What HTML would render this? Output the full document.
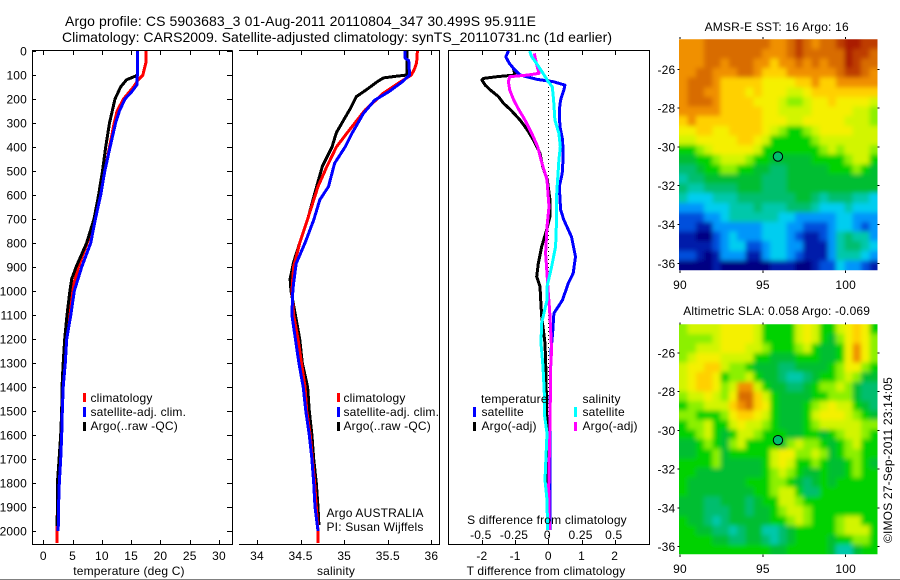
<!DOCTYPE html>
<html>
<head>
<meta charset="utf-8">
<style>
html,body{margin:0;padding:0;background:#fff;}
svg{display:block;font-family:"Liberation Sans",sans-serif;font-size:12px;fill:#000;letter-spacing:0.18px;}
</style>
</head>
<body>
<svg id="fig" xmlns="http://www.w3.org/2000/svg" width="900" height="580" viewBox="0 0 900 580">
<defs>
<filter id="map-smooth" filterUnits="userSpaceOnUse" x="640" y="0" width="260" height="580"><feGaussianBlur stdDeviation="2.4"/></filter>
<clipPath id="sst-clip"><rect x="679" y="39.3" width="198.5" height="231"/></clipPath>
<clipPath id="sla-clip"><rect x="679" y="324.3" width="198.5" height="230"/></clipPath>
</defs>
<rect x="0" y="0" width="900" height="580" fill="#fff"/>
<rect x="0" y="579" width="900" height="1" fill="#808080"/>
<g id="maps"></g>
<g id="axes"></g>
<g id="lines"></g>
<text x="65" y="26" font-size="14" letter-spacing="0" textLength="471">Argo profile: CS 5903683_3 01-Aug-2011 20110804_347 30.499S 95.911E</text>
<text x="62" y="42" font-size="14" letter-spacing="0" textLength="550">Climatology: CARS2009. Satellite-adjusted climatology: synTS_20110731.nc (1d earlier)</text>
<text x="129" y="575" text-anchor="middle">temperature (deg C)</text>
<text x="336" y="575" text-anchor="middle">salinity</text>
<text x="546" y="575" text-anchor="middle">T difference from climatology</text>
<text x="547" y="524" text-anchor="middle">S difference from climatology</text>
<g>
<rect x="83" y="393" width="3" height="9" fill="#f00"/>
<rect x="83" y="407" width="3" height="10" fill="#00f"/>
<rect x="83" y="422" width="3" height="9" fill="#000"/>
<text x="90.5" y="402">climatology</text>
<text x="90.5" y="416">satellite-adj. clim.</text>
<text x="90.5" y="430">Argo(..raw -QC)</text>
</g>
<g>
<rect x="337" y="393" width="3" height="9" fill="#f00"/>
<rect x="337" y="407" width="3" height="10" fill="#00f"/>
<rect x="337" y="422" width="3" height="9" fill="#000"/>
<text x="343.5" y="402">climatology</text>
<text x="343.5" y="416">satellite-adj. clim.</text>
<text x="343.5" y="430">Argo(..raw -QC)</text>
</g>
<g>
<text x="481" y="403">temperature</text>
<text x="582.5" y="403">salinity</text>
<rect x="473" y="407" width="3" height="10" fill="#00f"/>
<rect x="473" y="422" width="3" height="9" fill="#000"/>
<rect x="574" y="407" width="3" height="10" fill="#0ff"/>
<rect x="574" y="422" width="3" height="9" fill="#f0f"/>
<text x="481.5" y="416">satellite</text>
<text x="481.5" y="430">Argo(-adj)</text>
<text x="582.5" y="416">satellite</text>
<text x="582.5" y="430">Argo(-adj)</text>
</g>
<text x="326.5" y="517">Argo AUSTRALIA</text>
<text x="326.5" y="531">PI: Susan Wijffels</text>
<text x="776.7" y="31" text-anchor="middle">AMSR-E SST: 16 Argo: 16</text>
<text x="776.7" y="315" text-anchor="middle">Altimetric SLA: 0.058 Argo: -0.069</text>
<text transform="translate(892,460) rotate(-90)" text-anchor="middle">©IMOS 27-Sep-2011 23:14:05</text>
</svg>
<script>
const depthTicks = [0,100,200,300,400,500,600,700,800,900,1000,1100,1200,1300,1400,1500,1600,1700,1800,1900,2000];
const tempTicks = [0,5,10,15,20,25,30];
const salTicks = [34,34.5,35,35.5,36];
const salTickLabels = ["34","34.5","35","35.5","36"];
const tDiffTicks = [-2,-1,0,1,2];
const sDiffTicks = [-0.5,-0.25,0,0.25,0.5];
const sDiffTickLabels = ["-0.5","-0.25","0","0.25","0.5"];
const lonTicks = [90,95,100];
const latTicks = [26,28,30,32,34,36];

const tempClimDepth = [0,50,80,100,120,150,200,250,300,400,500,600,700,800,900,1000,1100,1200,1300,1400,1500,1600,1700,1800,1900,1950,2050];
const tempClimValue = [17.5,17.5,17.2,17.0,16.2,15.4,13.7,12.6,12.1,11.3,10.5,9.8,8.8,7.5,6.0,4.85,4.4,3.85,3.6,3.3,3.2,3.05,2.85,2.6,2.45,2.35,2.35];
const tempArgoDepth = [0,100,105,120,150,200,300,400,500,600,700,800,900,950,1000,1100,1200,1300,1400,1500,1600,1700,1800,1900,1980];
const tempArgoValue = [16.05,16.05,15.7,14.2,13.2,12.25,11.3,10.65,10.1,9.45,8.65,7.4,5.6,4.85,4.55,4.05,3.65,3.4,3.2,3.15,2.97,2.7,2.4,2.4,2.35];
const tempSatDepth = [0,100,140,170,200,250,300,400,500,600,700,800,900,1000,1100,1200,1300,1400,1500,1600,1700,1800,1900,2000];
const tempSatValue = [16.05,16.05,16.0,15.1,13.95,13.0,12.35,11.4,10.5,9.8,8.9,8.1,6.55,5.3,4.7,4.0,3.75,3.4,3.25,3.15,2.97,2.73,2.6,2.55];

const salClimDepth = [0,50,80,100,130,176,246,343,400,482,565,690,800,900,1000,1100,1200,1300,1400,1500,1600,1800,2000,2050];
const salClimValue = [35.84,35.83,35.80,35.77,35.64,35.45,35.24,35.03,34.91,34.80,34.70,34.59,34.49,34.42,34.40,34.42,34.47,34.51,34.55,34.57,34.61,34.66,34.70,34.70];
const salArgoDepth = [0,100,105,112,130,160,190,240,290,340,400,480,570,690,800,880,950,1000,1100,1200,1300,1400,1500,1600,1700,1800,1900,1975];
const salArgoValue = [35.72,35.72,35.6,35.45,35.37,35.26,35.14,35.07,34.99,34.91,34.86,34.75,34.68,34.59,34.49,34.42,34.38,34.39,34.44,34.49,34.52,34.58,34.60,34.63,34.65,34.68,34.70,34.71];
const salSatDepth = [0,30,40,100,130,170,205,260,343,400,468,565,620,704,800,885,968,1000,1100,1200,1300,1400,1500,1600,1700,1800,1900,2000];
const salSatValue = [35.70,35.70,35.74,35.75,35.66,35.51,35.35,35.22,35.09,35.01,34.89,34.82,34.72,34.65,34.55,34.45,34.42,34.41,34.40,34.44,34.48,34.53,34.56,34.60,34.63,34.65,34.665,34.70];

const tDiffSatDepth = [0,24,50,72,100,118,128,142,162,204,246,315,371,440,510,565,662,704,774,857,926,968,1037,1093,1176,1250,1500,1996];
const tDiffSatValue = [-1.2,-1.28,-1.18,-1.05,-0.85,-0.35,0.15,0.5,0.47,0.37,0.33,0.35,0.43,0.45,0.42,0.33,0.37,0.47,0.70,0.82,0.75,0.60,0.43,0.17,0.13,0.08,0.05,0.05];
const tDiffArgoDepth = [0,24,50,72,100,107,114,121,142,162,190,218,246,288,329,371,426,482,537,621,690,746,815,885,940,982,1037,1107,1218,1343,1510,1593,1802,1990];
const tDiffArgoValue = [-1.2,-1.28,-1.18,-1.05,-1.0,-1.55,-1.95,-2.0,-1.9,-1.75,-1.5,-1.35,-1.13,-0.85,-0.63,-0.45,-0.25,-0.17,-0.03,0.05,0.05,-0.05,-0.2,-0.3,-0.35,-0.25,-0.23,-0.2,-0.1,-0.07,-0.05,-0.02,-0.05,0];
const sDiffSatDepth = [0,24,50,93,128,149,204,288,343,399,454,537,621,732,815,899,982,1037,1135,1218,1315,1426,1510,1593,1787,1871,1996];
const sDiffSatValue = [-0.14,-0.125,-0.09,-0.04,0,0.03,0.04,0.05,0.08,0.09,0.08,0.07,0.06,0.06,0.055,0.025,-0.01,-0.01,-0.05,-0.055,-0.04,-0.03,-0.03,-0.01,-0.025,-0.01,-0.005];
const sDiffArgoDepth = [10,50,93,100,107,128,162,204,246,288,343,399,454,537,649,732,843,926,1010,1079,1135,1246,1343,1454,1621,1815,1996];
const sDiffArgoValue = [-0.105,-0.09,-0.07,-0.15,-0.29,-0.30,-0.29,-0.26,-0.22,-0.175,-0.125,-0.08,-0.055,-0.01,0.005,-0.01,-0.02,-0.01,0,0.01,0.015,0.025,0.015,0.015,0.01,0.003,0.008];

const mapColorLevels = ["#000082","#001eaa","#0050dc","#0096fa","#00cdf0","#00c8aa","#00be6e","#00be32","#00d200","#8cf000","#d2f500","#f5f000","#ffd000","#f09000","#d86c00","#be3c00","#aa1e00"];

const sstLevelsRow0 = [13,13,13,14,14,14,14,14,14,14,14,13,13,14,15,14,13,14,14,15,16,16,15,15];
const sstLevelsRow1 = [13,13,13,14,14,14,14,14,14,14,13,13,13,14,15,14,14,14,14,14,16,15,15,14];
const sstLevelsRow2 = [13,13,13,14,14,13,14,14,14,13,13,12,13,13,14,13,14,13,14,14,16,15,14,14];
const sstLevelsRow3 = [13,13,14,14,13,13,13,14,14,13,12,12,12,13,13,13,13,13,13,14,15,15,14,13];
const sstLevelsRow4 = [13,14,14,14,13,12,12,12,12,12,11,11,11,11,12,12,13,12,12,13,13,13,13,13];
const sstLevelsRow5 = [13,14,14,13,13,12,12,12,11,12,11,11,11,10,10,11,12,12,12,12,12,12,12,12];
const sstLevelsRow6 = [13,14,14,14,13,12,12,12,12,11,11,11,10,9,9,10,11,11,12,11,11,11,11,10];
const sstLevelsRow7 = [13,13,13,13,13,12,12,12,12,12,11,11,10,10,10,10,11,11,11,11,11,10,10,9];
const sstLevelsRow8 = [12,13,12,12,12,12,12,12,12,12,11,11,11,10,10,11,11,11,11,11,10,10,10,9];
const sstLevelsRow9 = [11,11,12,12,11,11,12,12,12,12,11,10,9,8,8,9,10,11,11,11,11,10,10,10];
const sstLevelsRow10 = [10,10,11,11,11,11,11,12,12,11,10,8,8,8,8,8,9,10,10,10,10,10,10,10];
const sstLevelsRow11 = [8,8,9,10,11,11,11,11,11,10,8,8,8,8,8,8,8,9,10,9,10,10,10,9];
const sstLevelsRow12 = [7,7,8,8,9,10,10,10,9,8,8,7,7,7,7,7,8,8,8,8,9,10,10,8];
const sstLevelsRow13 = [6,6,7,8,8,9,9,8,8,7,7,6,6,7,7,7,7,7,8,8,8,9,8,7];
const sstLevelsRow14 = [5,6,6,7,7,7,7,7,7,7,6,6,6,7,7,7,7,7,7,7,7,7,7,7];
const sstLevelsRow15 = [6,5,5,6,6,6,6,7,7,7,6,6,6,7,7,7,7,7,7,7,7,7,7,7];
const sstLevelsRow16 = [5,4,4,4,5,5,5,6,6,6,6,6,6,6,7,7,6,5,6,6,6,5,5,4];
const sstLevelsRow17 = [3,3,3,4,4,4,5,5,5,6,5,5,5,6,6,6,5,4,4,4,5,4,4,4];
const sstLevelsRow18 = [2,2,2,3,3,4,5,5,5,5,5,5,4,4,3,3,3,3,3,4,4,3,3,3];
const sstLevelsRow19 = [2,2,1,1,3,3,3,3,3,3,4,4,4,3,3,2,2,2,3,4,4,3,2,3];
const sstLevelsRow20 = [1,1,0,0,2,3,4,3,3,3,4,4,4,3,2,1,1,2,3,5,6,5,5,3];
const sstLevelsRow21 = [1,1,1,1,2,3,4,4,2,2,3,4,4,3,3,1,1,1,3,5,6,6,5,4];
const sstLevelsRow22 = [2,2,1,0,1,3,3,3,1,1,3,4,4,3,2,1,1,1,3,5,5,5,4,3];
const sstLevelsRow23 = [0,0,0,0,1,0,0,0,0,0,0,1,1,1,0,0,1,2,2,4,3,3,2,1];
const sstLevels = [sstLevelsRow0,sstLevelsRow1,sstLevelsRow2,sstLevelsRow3,sstLevelsRow4,sstLevelsRow5,sstLevelsRow6,sstLevelsRow7,sstLevelsRow8,sstLevelsRow9,sstLevelsRow10,sstLevelsRow11,sstLevelsRow12,sstLevelsRow13,sstLevelsRow14,sstLevelsRow15,sstLevelsRow16,sstLevelsRow17,sstLevelsRow18,sstLevelsRow19,sstLevelsRow20,sstLevelsRow21,sstLevelsRow22,sstLevelsRow23];

const slaLevelsRow0 = [9,10,10,10,10,11,11,11,11,10,8,8,8,8,10,11,10,8,8,10,11,12,11,8];
const slaLevelsRow1 = [9,9,9,9,10,11,11,11,11,10,8,8,8,8,10,11,10,8,7,9,11,12,11,9];
const slaLevelsRow2 = [9,9,10,10,10,11,11,11,10,10,9,8,8,8,9,10,8,7,7,8,11,13,11,9];
const slaLevelsRow3 = [9,10,11,11,11,10,10,10,10,8,8,7,7,7,8,8,8,7,7,8,11,13,11,9];
const slaLevelsRow4 = [10,11,11,12,12,10,9,9,8,7,7,7,6,6,7,7,7,7,8,9,11,11,9,8];
const slaLevelsRow5 = [10,11,12,12,11,8,9,9,10,8,7,7,6,5,5,6,7,8,8,9,10,9,7,7];
const slaLevelsRow6 = [10,11,12,12,11,9,10,13,13,10,8,7,7,6,6,7,8,9,9,10,9,7,6,6];
const slaLevelsRow7 = [9,10,10,11,10,9,11,14,14,12,10,8,7,7,7,7,8,8,9,9,9,7,6,6];
const slaLevelsRow8 = [8,9,9,10,10,10,12,13,14,12,11,8,7,7,7,8,9,10,11,10,10,8,7,6];
const slaLevelsRow9 = [9,9,8,8,8,9,11,12,12,11,10,8,7,7,7,8,10,11,11,11,10,9,8,7];
const slaLevelsRow10 = [8,9,9,10,8,8,10,11,10,10,9,8,7,7,7,8,9,10,10,10,10,10,9,9];
const slaLevelsRow11 = [8,8,9,10,8,7,8,10,10,9,8,8,8,7,7,8,8,7,8,9,10,10,9,8];
const slaLevelsRow12 = [7,7,8,9,8,7,9,10,8,8,8,8,7,9,10,9,9,8,7,8,9,10,8,8];
const slaLevelsRow13 = [7,7,8,8,9,7,8,8,8,8,8,10,11,11,9,9,10,9,7,8,9,9,8,8];
const slaLevelsRow14 = [8,8,8,8,9,7,7,7,7,7,8,10,11,10,8,8,9,8,7,7,8,9,8,7];
const slaLevelsRow15 = [8,8,7,7,7,7,7,7,7,7,8,9,10,9,8,7,7,8,7,7,8,9,8,8];
const slaLevelsRow16 = [8,7,7,7,7,7,7,7,8,8,8,9,9,8,7,6,7,8,7,8,8,8,8,8];
const slaLevelsRow17 = [8,7,7,7,7,7,7,7,7,8,8,9,10,10,8,6,6,8,8,8,8,8,8,8];
const slaLevelsRow18 = [7,7,7,6,6,7,7,7,6,7,8,8,10,10,9,8,8,8,8,8,8,8,8,8];
const slaLevelsRow19 = [7,7,7,6,6,6,7,7,6,7,7,8,9,10,10,9,8,8,8,8,8,8,8,8];
const slaLevelsRow20 = [8,7,7,6,5,6,7,7,7,7,7,8,8,9,10,9,8,8,8,9,10,10,8,8];
const slaLevelsRow21 = [8,8,7,7,6,6,5,6,7,7,5,5,6,7,8,8,8,8,8,9,10,10,10,8];
const slaLevelsRow22 = [8,8,8,8,7,7,6,6,7,7,6,5,6,7,8,8,8,8,7,8,8,9,9,8];
const slaLevelsRow23 = [8,8,8,8,8,8,8,8,8,8,8,7,7,8,8,8,8,8,7,5,5,7,8,8];
const slaLevels = [slaLevelsRow0,slaLevelsRow1,slaLevelsRow2,slaLevelsRow3,slaLevelsRow4,slaLevelsRow5,slaLevelsRow6,slaLevelsRow7,slaLevelsRow8,slaLevelsRow9,slaLevelsRow10,slaLevelsRow11,slaLevelsRow12,slaLevelsRow13,slaLevelsRow14,slaLevelsRow15,slaLevelsRow16,slaLevelsRow17,slaLevelsRow18,slaLevelsRow19,slaLevelsRow20,slaLevelsRow21,slaLevelsRow22,slaLevelsRow23];

const profileLon = 95.911;
const profileLat = 30.499;
const sstAtProfileLevel = 6;
const slaAtProfileLevel = 6;

const NS = "http://www.w3.org/2000/svg";
const axesG = document.getElementById("axes");
const linesG = document.getElementById("lines");
const mapsG = document.getElementById("maps");

function depthY(d){ return 51 + 0.24 * d; }
function tempX(t){ return 43.3 + 5.857 * t; }
function salX(s){ return 257 + 87.2 * (s - 34); }
function tDiffX(t){ return 548.3 + 33.2 * t; }
function sDiffX(s){ return 548.3 + 133 * s; }
function lonX(lon){ return 680 + 16.57 * (lon - 90); }
function sstLatY(lat){ return 69.3 + 19.4 * (lat - 26); }
function slaLatY(lat){ return 353 + 19.37 * (lat - 26); }

function rule(x1, y1, x2, y2, name, parent, dotted){
  const el = document.createElementNS(NS, "line");
  el.setAttribute("x1", x1);
  el.setAttribute("y1", y1);
  el.setAttribute("x2", x2);
  el.setAttribute("y2", y2);
  el.setAttribute("stroke", "#000");
  el.setAttribute("stroke-width", "1");
  el.setAttribute("shape-rendering", "crispEdges");
  if (dotted) el.setAttribute("stroke-dasharray", "1 3");
  
  
  parent.appendChild(el);
  return el;
}
function label(str, x, y, anchor, name){
  const el = document.createElementNS(NS, "text");
  el.setAttribute("x", x);
  el.setAttribute("y", y);
  el.setAttribute("text-anchor", anchor);
  el.textContent = str;
  
  
  axesG.appendChild(el);
  return el;
}
function profile(depths, values, xFn, color, width, name){
  const pts = depths.map((d, i) => xFn(values[i]).toFixed(1) + "," + depthY(d).toFixed(1)).join(" ");
  const el = document.createElementNS(NS, "polyline");
  el.setAttribute("points", pts);
  el.setAttribute("fill", "none");
  el.setAttribute("stroke", color);
  el.setAttribute("stroke-width", width);
  el.setAttribute("stroke-linejoin", "round");
  el.setAttribute("shape-rendering", "crispEdges");
  
  
  linesG.appendChild(el);
}
function drawMap(levels, latY, topLat, bottomLat, name, clipId){
  const g = document.createElementNS(NS, "g");
  
  
  mapsG.appendChild(g);
  const clipG = document.createElementNS(NS, "g");
  clipG.setAttribute("clip-path", "url(#" + clipId + ")");
  
  
  g.appendChild(clipG);
  const cellsG = document.createElementNS(NS, "g");
  cellsG.setAttribute("filter", "url(#map-smooth)");
  
  
  clipG.appendChild(cellsG);
  const top = latY(topLat), bottom = latY(bottomLat);
  const left = lonX(89.96), right = lonX(101.92);
  const rows = levels.length;
  levels.forEach((row, r) => {
    const cols = row.length;
    row.forEach((lv, c) => {
      let x0 = left + (right - left) * c / cols;
      let x1 = left + (right - left) * (c + 1) / cols;
      let y0 = top + (bottom - top) * r / rows;
      let y1 = top + (bottom - top) * (r + 1) / rows;
      if (c === 0) x0 -= 12;
      if (c === cols - 1) x1 += 12;
      if (r === 0) y0 -= 12;
      if (r === rows - 1) y1 += 12;
      const cell = document.createElementNS(NS, "rect");
      cell.setAttribute("x", x0.toFixed(2));
      cell.setAttribute("y", y0.toFixed(2));
      cell.setAttribute("width", (x1 - x0 + 0.4).toFixed(2));
      cell.setAttribute("height", (y1 - y0 + 0.4).toFixed(2));
      cell.setAttribute("fill", mapColorLevels[lv]);
      cell.setAttribute("shape-rendering", "crispEdges");
      
      
      cellsG.appendChild(cell);
    });
  });
  lonTicks.forEach(lon => {
    rule(lonX(lon), top - 2, lonX(lon), top, "map-lon-tick-top", g);
    rule(lonX(lon), bottom + 0.5, lonX(lon), bottom + 3, "map-lon-tick-bottom", g);
    label(String(lon), lonX(lon), bottom + 19, "middle", "map-lon-tick-label");
  });
  latTicks.forEach(lat => {
    const y = latY(lat);
    rule(left - 2, y, left, y, "map-lat-tick-left", g);
    rule(right, y, right + 2, y, "map-lat-tick-right", g);
    label("-" + lat, left - 4, y + 4.5, "end", "map-lat-tick-label");
  });
}

/* panel frames */
rule(32, 50.5, 232.5, 50.5, "temperature-axis-top", axesG);
rule(32.5, 50.5, 32.5, 544.5, "temperature-axis-left", axesG);
rule(232.5, 50.5, 232.5, 544.5, "temperature-axis-right", axesG);
rule(32, 544.5, 233, 544.5, "temperature-axis-bottom", axesG);
rule(239, 50.5, 440, 50.5, "salinity-axis-top", axesG);
rule(439.5, 50.5, 439.5, 544.5, "salinity-axis-right", axesG);
rule(239, 544.5, 440, 544.5, "salinity-axis-bottom", axesG);
rule(448, 50.5, 650, 50.5, "difference-axis-top", axesG);
rule(448.5, 50.5, 448.5, 544.5, "difference-axis-left", axesG);
rule(649.5, 50.5, 649.5, 544.5, "difference-axis-right", axesG);
rule(448, 544.5, 650, 544.5, "difference-axis-bottom", axesG);
rule(tDiffX(0), 51, tDiffX(0), 544, "zero-reference-line", axesG, true);

/* depth ticks */
depthTicks.forEach(d => {
  const y = Math.round(depthY(d)) + 0.5;
  rule(33, y, 36, y, "depth-tick-left", axesG);
  rule(227, y, 232, y, "depth-tick-right", axesG);
  label(String(d), 27, depthY(d) + 4.5, "end", "depth-tick-label");
});
/* x ticks */
tempTicks.forEach(t => {
  const x = Math.round(tempX(t)) + 0.5;
  rule(x, 51, x, 55, "temperature-tick-top", axesG);
  rule(x, 540, x, 544, "temperature-tick-bottom", axesG);
  label(String(t), tempX(t), 560, "middle", "temperature-tick-label");
});
salTicks.forEach((s, i) => {
  const x = Math.round(salX(s)) + 0.5;
  rule(x, 51, x, 55, "salinity-tick-top", axesG);
  rule(x, 540, x, 544, "salinity-tick-bottom", axesG);
  label(salTickLabels[i], salX(s), 560, "middle", "salinity-tick-label");
});
tDiffTicks.forEach(t => {
  const x = Math.round(tDiffX(t)) + 0.5;
  rule(x, 51, x, 55, "t-difference-tick-top", axesG);
  rule(x, 540, x, 544, "t-difference-tick-bottom", axesG);
  label(String(t), tDiffX(t), 560, "middle", "t-difference-tick-label");
});
sDiffTicks.forEach((s, i) => {
  label(sDiffTickLabels[i], sDiffX(s) - 1, 539, "middle", "s-difference-tick-label");
});

/* profile lines */
profile(tempClimDepth, tempClimValue, tempX, "#f00", 3, "temperature-climatology-line");
profile(tempArgoDepth, tempArgoValue, tempX, "#000", 3, "temperature-argo-line");
profile(tempSatDepth, tempSatValue, tempX, "#00f", 3, "temperature-satellite-line");
profile(salArgoDepth, salArgoValue, salX, "#000", 3, "salinity-argo-line");
profile(salClimDepth, salClimValue, salX, "#f00", 3, "salinity-climatology-line");
profile(salSatDepth, salSatValue, salX, "#00f", 3, "salinity-satellite-line");
profile(tDiffArgoDepth, tDiffArgoValue, tDiffX, "#000", 3, "t-difference-argo-line");
profile(tDiffSatDepth, tDiffSatValue, tDiffX, "#00f", 3, "t-difference-satellite-line");
profile(sDiffArgoDepth, sDiffArgoValue, sDiffX, "#f0f", 3, "s-difference-argo-line");
profile(sDiffSatDepth, sDiffSatValue, sDiffX, "#0ff", 3, "s-difference-satellite-line");

/* maps */
drawMap(sstLevels, sstLatY, 24.45, 36.35, "sst-heatmap", "sst-clip");
drawMap(slaLevels, slaLatY, 24.52, 36.38, "sla-heatmap", "sla-clip");

const sstMarker = document.createElementNS(NS, "circle");
sstMarker.setAttribute("cx", lonX(profileLon));
sstMarker.setAttribute("cy", sstLatY(profileLat));
sstMarker.setAttribute("r", 4.7);
sstMarker.setAttribute("fill", mapColorLevels[sstAtProfileLevel]);
sstMarker.setAttribute("stroke", "#000");


mapsG.appendChild(sstMarker);

const slaMarker = document.createElementNS(NS, "circle");
slaMarker.setAttribute("cx", lonX(profileLon));
slaMarker.setAttribute("cy", slaLatY(profileLat));
slaMarker.setAttribute("r", 4.7);
slaMarker.setAttribute("fill", mapColorLevels[slaAtProfileLevel]);
slaMarker.setAttribute("stroke", "#000");


mapsG.appendChild(slaMarker);
</script>
</body>
</html>
